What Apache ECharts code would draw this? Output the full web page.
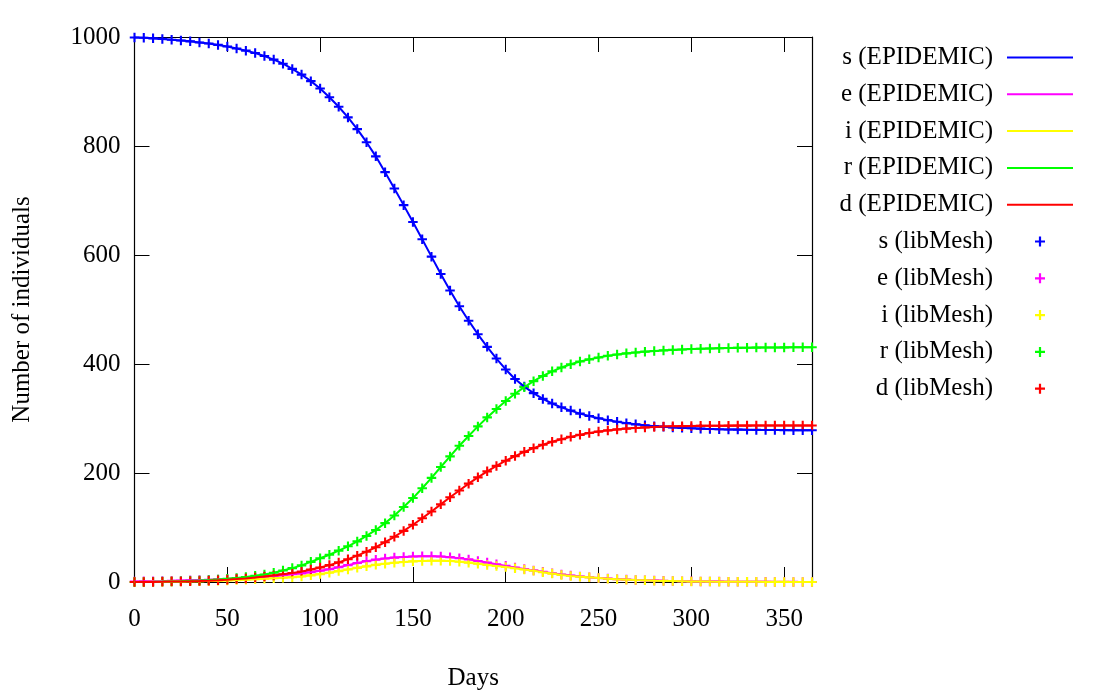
<!DOCTYPE html>
<html>
<head>
<meta charset="utf-8">
<script src="https://cdn.jsdelivr.net/npm/echarts@6/dist/echarts.min.js"></script>
<style>
  html, body { margin: 0; padding: 0; background: #fff; }
  #chart { width: 1100px; height: 700px; }
</style>
</head>
<body>
<div id="chart"></div>
<script>
// days of simulation, one sample every 5 days
var days = [0, 5, 10, 15, 20, 25, 30, 35, 40, 45,
    50, 55, 60, 65, 70, 75, 80, 85, 90, 95,
    100, 105, 110, 115, 120, 125, 130, 135, 140, 145,
    150, 155, 160, 165, 170, 175, 180, 185, 190, 195,
    200, 205, 210, 215, 220, 225, 230, 235, 240, 245,
    250, 255, 260, 265, 270, 275, 280, 285, 290, 295,
    300, 305, 310, 315, 320, 325, 330, 335, 340, 345,
    350, 355, 360, 365];

var sVals = [999, 998.5, 997.5, 996.5, 995, 993.5, 992, 990, 988, 985.5,
    982.5, 979, 975, 970.5, 965, 958.5, 951, 941.5, 931, 919,
    905.5, 889.5, 872, 852.5, 831, 807, 781, 752, 722, 691.5,
    660.5, 629, 597, 565, 535, 506, 479.5, 454.5, 431.5, 410,
    390, 372.5, 358.5, 346.5, 336, 327.5, 320.5, 314.5, 309, 304.5,
    300.5, 297, 294, 291.5, 289.3, 287.5, 286, 284.8, 283.7, 282.8,
    282, 281.4, 280.8, 280.3, 279.9, 279.6, 279.3, 279.1, 278.9, 278.8,
    278.7, 278.6, 278.5, 278.5];

var eVals = [1, 1.2, 1.5, 1.8, 2.1, 2.5, 3, 3.5, 4.1, 4.8,
    5.6, 6.5, 7.5, 8.6, 9.8, 11.1, 12.5, 14.1, 15.9, 18,
    20.5, 23.5, 27, 31, 35, 38.3, 41, 43.2, 44.8, 46,
    46.8, 47.2, 47.2, 46.8, 45.6, 43.8, 41.5, 38.6, 35.6, 32.6,
    29.6, 26.7, 24, 21.3, 18.7, 16.2, 13.9, 11.9, 10.2, 8.7,
    7.4, 6.2, 5.2, 4.4, 3.7, 3.1, 2.6, 2.1, 1.8, 1.5,
    1.2, 1, 0.8, 0.7, 0.6, 0.5, 0.4, 0.3, 0.3, 0.2,
    0.2, 0.2, 0.1, 0.1];

var iVals = [0, 0.2, 0.4, 0.6, 0.8, 1.0, 1.3, 1.6, 2.0, 2.4,
    2.9, 3.5, 4.2, 5.0, 5.9, 6.9, 7.9, 8.9, 10, 12.2,
    14.5, 17, 20, 23, 26, 28.7, 31.5, 33.6, 35.4, 36.7,
    37.9, 38.6, 39, 39, 38.5, 37.3, 35.5, 33.6, 31.2, 29.3,
    27.4, 25.1, 23, 20.7, 18, 15.4, 13, 11.1, 9.7, 8.5,
    7.3, 6.1, 5, 4.3, 3.6, 3.1, 2.5, 2, 1.7, 1.4,
    1.1, 0.9, 0.7, 0.6, 0.5, 0.4, 0.3, 0.3, 0.2, 0.2,
    0.2, 0.1, 0.1, 0.1];

var rVals = [0, 0.2, 0.4, 0.7, 1.1, 1.5, 2.1, 2.8, 3.6, 4.6,
    5.8, 7.3, 9.1, 11.3, 13.9, 17, 21, 25.5, 30.5, 37,
    43.5, 50, 57.5, 65.5, 74.5, 84.5, 95.5, 108, 122, 137.5,
    154, 172, 191, 211, 230.5, 250, 268, 285.5, 302, 317.5,
    332, 345.5, 357.5, 368.5, 378, 386.5, 393.5, 399.5, 404.5, 408.5,
    412, 415, 417.5, 419.5, 421.2, 422.7, 424, 425, 425.9, 426.7,
    427.4, 428, 428.5, 428.9, 429.3, 429.6, 429.9, 430.1, 430.3, 430.4,
    430.5, 430.6, 430.7, 430.8];

var dVals = [0, 0.1, 0.2, 0.4, 0.7, 1.0, 1.4, 1.9, 2.5, 3.3,
    4.2, 5.3, 6.6, 8.2, 10, 12, 14.3, 16.5, 19, 23,
    26.6, 31, 36, 41.8, 48.3, 55.6, 63.8, 73, 83, 93.8,
    105, 117, 129.5, 142.5, 155.5, 168, 180.5, 192, 203, 213,
    222.5, 231, 238.8, 245.6, 251.8, 257.2, 262, 266.3, 270, 273.3,
    276, 278.2, 280, 281.5, 282.7, 283.7, 284.5, 285.1, 285.6, 286,
    286.3, 286.5, 286.7, 286.8, 286.9, 287, 287, 287.1, 287.1, 287.2,
    287.2, 287.2, 287.3, 287.3];

var xTicks = [0, 365, 50];   // min, max, step
var yTicks = [0, 1000, 200];

var compNames = ['s', 'e', 'i', 'r', 'd'];
var compVals = [sVals, eVals, iVals, rVals, dVals];
var compColors = ['#0000ff', '#ff00ff', '#ffff00', '#00ff00', '#ff0000'];

var FONT = '"Liberation Serif", "Times New Roman", serif';
var FSIZE = 25;
var plusPath = 'path://M3.9,0h2.2v3.9h3.9v2.2h-3.9v3.9h-2.2v-3.9h-3.9v-2.2h3.9z';

function pairs(vals) {
    var out = [];
    for (var k = 0; k < days.length; k++) {
        out.push([days[k], vals[k]]);
    }
    return out;
}

var chart = echarts.init(document.getElementById('chart'));

var series = [];
var legendData = [];
// EPIDEMIC solution, solid lines
for (var n = 0; n < compNames.length; n++) {
    var nm = compNames[n] + ' (EPIDEMIC)';
    // hide the dot ECharts puts in the middle of a line legend icon
    legendData.push({ name: nm, itemStyle: { opacity: 0 } });
    series.push({
        name: nm,
        type: 'line',
        data: pairs(compVals[n]),
        symbol: 'none',
        clip: false,
        color: compColors[n],
        itemStyle: { opacity: 0 },
        lineStyle: { width: 2, color: compColors[n] }
    });
}
// libMesh solution, plus markers
for (var m = 0; m < compNames.length; m++) {
    var nm2 = compNames[m] + ' (libMesh)';
    legendData.push({ name: nm2 });
    series.push({
        name: nm2,
        type: 'scatter',
        data: pairs(compVals[m]),
        symbol: plusPath,
        symbolSize: 9.5,
        symbolKeepAspect: true,
        clip: false,
        itemStyle: { color: compColors[m], opacity: 1 }
    });
}

var tickStyle = { show: true, inside: true, length: 15, lineStyle: { color: '#000', width: 1 } };
var lineStyle = { show: true, onZero: false, lineStyle: { color: '#000', width: 1.2 } };

var option = {
    animation: false,
    backgroundColor: '#fff',
    grid: { left: 134.5, right: 288, top: 37, bottom: 118, containLabel: false },
    legend: {
        data: legendData,
        orient: 'vertical',
        align: 'right',
        right: 26,
        top: 45,
        padding: 0,
        itemWidth: 66,
        itemHeight: 10,
        itemGap: 11.8,
        selectedMode: false,
        textStyle: { fontFamily: FONT, fontSize: FSIZE, color: '#000', lineHeight: 24, padding: [0, 9, 0, 0] }
    },
    xAxis: [{
        type: 'value',
        min: xTicks[0], max: xTicks[1], interval: xTicks[2],
        name: 'Days',
        nameLocation: 'middle',
        nameGap: 84,
        nameTextStyle: { fontFamily: FONT, fontSize: FSIZE, color: '#000' },
        axisLine: lineStyle,
        axisTick: tickStyle,
        splitLine: { show: false },
        axisLabel: { fontFamily: FONT, fontSize: FSIZE, color: '#000', margin: 25 }
    }, {
        type: 'value',
        position: 'top',
        min: xTicks[0], max: xTicks[1], interval: xTicks[2],
        axisLine: lineStyle,
        axisTick: tickStyle,
        splitLine: { show: false },
        axisLabel: { show: false }
    }],
    yAxis: [{
        type: 'value',
        min: yTicks[0], max: yTicks[1], interval: yTicks[2],
        name: 'Number of individuals',
        nameLocation: 'middle',
        nameGap: 100,
        nameTextStyle: { fontFamily: FONT, fontSize: FSIZE, color: '#000' },
        axisLine: lineStyle,
        axisTick: tickStyle,
        splitLine: { show: false },
        axisLabel: {
            fontFamily: FONT, fontSize: FSIZE, color: '#000', margin: 14,
            formatter: function (v) { return String(v); }
        }
    }, {
        type: 'value',
        position: 'right',
        min: yTicks[0], max: yTicks[1], interval: yTicks[2],
        axisLine: lineStyle,
        axisTick: tickStyle,
        splitLine: { show: false },
        axisLabel: { show: false }
    }],
    series: series
};

chart.setOption(option);
</script>
</body>
</html>
